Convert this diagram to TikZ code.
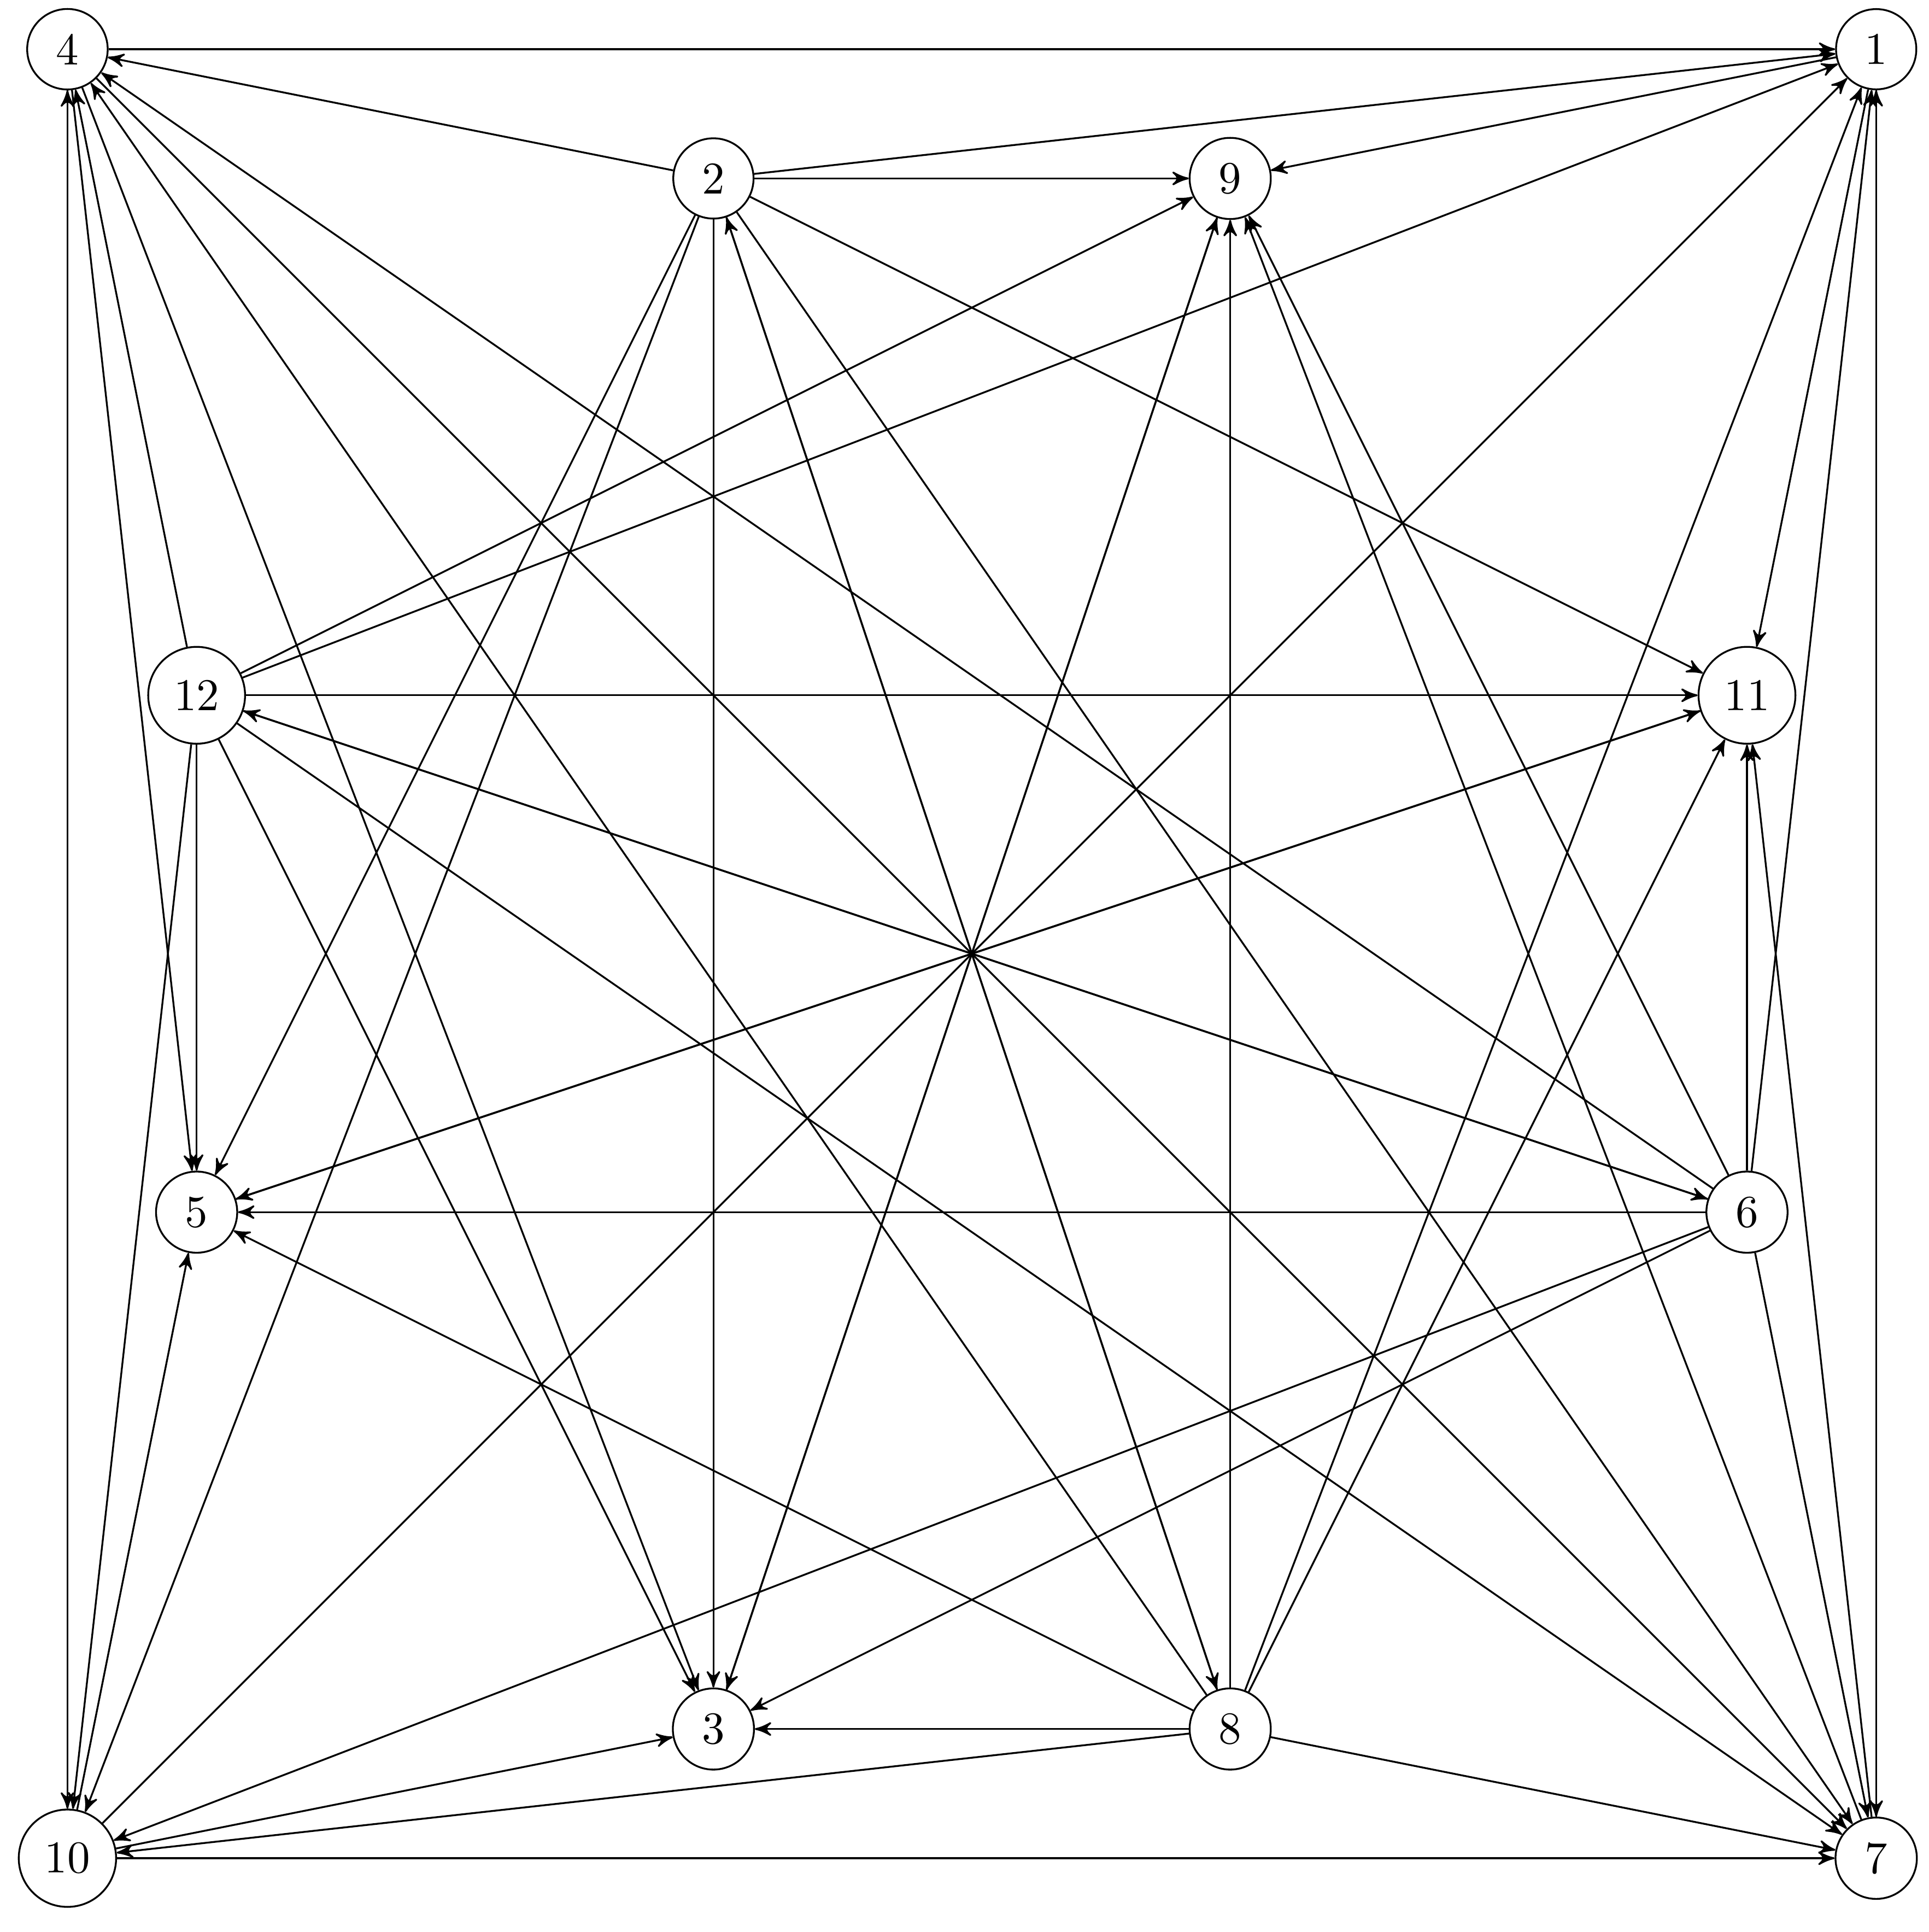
\documentclass[tikz,border=0pt]{standalone}
\usepackage{tikz}
\usetikzlibrary{arrows}

\begin{document}
\begin{tikzpicture}[
    vertex/.style={circle, draw, font=\normalsize},
    arrow/.style={->, >=stealth'}
]
\useasboundingbox (-0.522,-0.571) rectangle (14.409,14.381);

\node[vertex] (v4) at (0,14) {4};
\node[vertex] (v1) at (14,14) {1};
\node[vertex] (v2) at (5,13) {2};
\node[vertex] (v9) at (9,13) {9};
\node[vertex] (v12) at (1,9) {12};
\node[vertex] (v11) at (13,9) {11};
\node[vertex] (v5) at (1,5) {5};
\node[vertex] (v6) at (13,5) {6};
\node[vertex] (v3) at (5,1) {3};
\node[vertex] (v8) at (9,1) {8};
\node[vertex] (v10) at (0,0) {10};
\node[vertex] (v7) at (14,0) {7};

\draw[arrow] (v1) -- (v9);
\draw[arrow] (v1) -- (v11);
\draw[arrow] (v1) -- (v7);

\draw[arrow] (v2) -- (v4);
\draw[arrow] (v2) -- (v1);
\draw[arrow] (v2) -- (v9);
\draw[arrow] (v2) -- (v11);
\draw[arrow] (v2) -- (v5);
\draw[arrow] (v2) -- (v10);
\draw[arrow] (v2) -- (v3);
\draw[arrow] (v2) -- (v7);
\draw[arrow] (v2) -- (v8);

\draw[arrow] (v3) -- (v9);

\draw[arrow] (v4) -- (v1);
\draw[arrow] (v4) -- (v7);
\draw[arrow] (v4) -- (v3);
\draw[arrow] (v4) -- (v5);
\draw[arrow] (v4) -- (v10);

\draw[arrow] (v5) -- (v11);

\draw[arrow] (v6) -- (v4);
\draw[arrow] (v6) -- (v1);
\draw[arrow] (v6) -- (v9);
\draw[arrow] (v6) -- (v11);
\draw[arrow] (v6) -- (v12);
\draw[arrow] (v6) -- (v5);
\draw[arrow] (v6) -- (v10);
\draw[arrow] (v6) -- (v3);
\draw[arrow] (v6) -- (v7);

\draw[arrow] (v7) -- (v1);
\draw[arrow] (v7) -- (v9);
\draw[arrow] (v7) -- (v11);

\draw[arrow] (v8) -- (v4);
\draw[arrow] (v8) -- (v1);
\draw[arrow] (v8) -- (v2);
\draw[arrow] (v8) -- (v9);
\draw[arrow] (v8) -- (v11);
\draw[arrow] (v8) -- (v5);
\draw[arrow] (v8) -- (v3);
\draw[arrow] (v8) -- (v10);
\draw[arrow] (v8) -- (v7);

\draw[arrow] (v9) -- (v3);

\draw[arrow] (v10) -- (v4);
\draw[arrow] (v10) -- (v1);
\draw[arrow] (v10) -- (v5);
\draw[arrow] (v10) -- (v3);
\draw[arrow] (v10) -- (v7);

\draw[arrow] (v11) -- (v5);

\draw[arrow] (v12) -- (v4);
\draw[arrow] (v12) -- (v1);
\draw[arrow] (v12) -- (v9);
\draw[arrow] (v12) -- (v11);
\draw[arrow] (v12) -- (v6);
\draw[arrow] (v12) -- (v7);
\draw[arrow] (v12) -- (v3);
\draw[arrow] (v12) -- (v5);
\draw[arrow] (v12) -- (v10);

\end{tikzpicture}
\end{document}
